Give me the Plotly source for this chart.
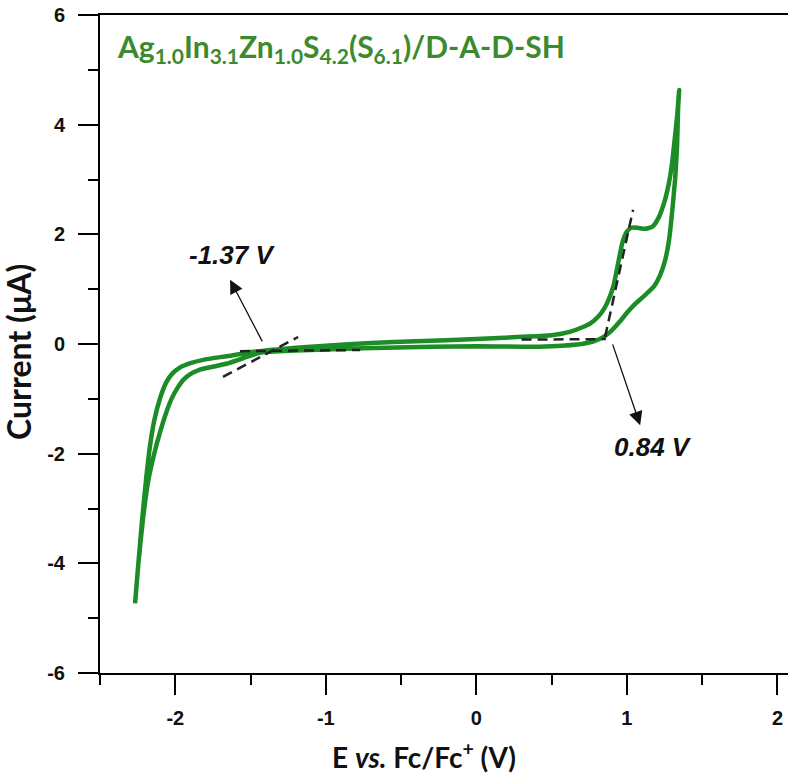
import plotly.graph_objects as go

# Forward (upper / outer) branch: from cathodic tip to anodic vertex
fwd_x = [-2.267, -2.245, -2.22, -2.195, -2.17, -2.14, -2.10, -2.06, -2.02, -1.97, -1.90,
         -1.80, -1.65, -1.52, -1.37, -1.2, -1.0, -0.7, -0.4, 0.0, 0.3, 0.5, 0.62, 0.70,
         0.76, 0.81, 0.85, 0.88, 0.91, 0.94, 0.97, 1.0, 1.03, 1.07, 1.12, 1.17, 1.21, 1.25,
         1.28, 1.30, 1.32, 1.335, 1.347]
fwd_y = [-4.73, -4.0, -3.2, -2.5, -1.9, -1.4, -0.98, -0.70, -0.54, -0.43, -0.35,
         -0.28, -0.22, -0.16, -0.11, -0.07, -0.03, 0.02, 0.05, 0.09, 0.13, 0.16, 0.22, 0.30,
         0.38, 0.50, 0.65, 0.82, 1.05, 1.45, 1.85, 2.05, 2.12, 2.12, 2.10, 2.14, 2.3, 2.6,
         2.95, 3.3, 3.8, 4.2, 4.63]
# Reverse (lower / inner) branch: from anodic vertex back to cathodic tip
rev_x = [1.347, 1.34, 1.333, 1.32, 1.30, 1.28, 1.254, 1.22, 1.18, 1.108, 1.05, 1.0, 0.95, 0.889,
         0.84, 0.78, 0.70, 0.5, 0.3, 0.0, -0.3, -0.6, -0.9, -1.2, -1.44, -1.55, -1.66, -1.76,
         -1.84, -1.90, -1.945, -1.985, -2.025, -2.06, -2.10, -2.14, -2.18, -2.215, -2.245, -2.267]
rev_y = [4.63, 4.3, 3.6, 3.0, 2.4, 1.9, 1.53, 1.25, 1.05, 0.86, 0.72, 0.57, 0.40, 0.22,
         0.12, 0.05, 0.0, -0.04, -0.05, -0.04, -0.05, -0.07, -0.09, -0.12, -0.16, -0.26, -0.36, -0.42,
         -0.47, -0.55, -0.65, -0.80, -1.0, -1.25, -1.6, -2.0, -2.5, -3.2, -4.0, -4.73]

# Tangent (onset) lines
tan_left_steep_x = [-1.683, -1.184]
tan_left_steep_y = [-0.60, 0.128]
tan_left_base_x = [-1.57, -0.772]
tan_left_base_y = [-0.13, -0.11]
tan_right_base_x = [0.30, 0.86]
tan_right_base_y = [0.08, 0.09]
tan_right_steep_x = [0.855, 1.041]
tan_right_steep_y = [0.13, 2.45]

onset_labels = ["-1.37 V", "0.84 V"]
label_x = [-1.623, 1.174]
label_y = [1.62, -1.88]
arrow_tail_x = [-1.417, 0.902]
arrow_tail_y = [0.02, 0.02]
arrow_head_x = [-1.636, 1.088]
arrow_head_y = [1.17, -1.48]

x_ticks = [-2, -1, 0, 1, 2]
x_ticktext = ["-2", "-1", "0", "1", "2"]
y_ticks = [-6, -4, -2, 0, 2, 4, 6]
y_ticktext = ["-6", "-4", "-2", "0", "2", "4", "6"]

W, H = 788, 773
L, T, PW, PH = 100, 15, 688, 658

green = "#1c8c26"
fig = go.Figure()
fig.add_trace(go.Scatter(x=fwd_x + rev_x[1:], y=fwd_y + rev_y[1:], mode="lines",
                         line=dict(color=green, width=4.5, shape="spline", smoothing=0.5),
                         showlegend=False, hoverinfo="skip"))
for tx, ty in [(tan_left_steep_x, tan_left_steep_y), (tan_left_base_x, tan_left_base_y),
               (tan_right_base_x, tan_right_base_y), (tan_right_steep_x, tan_right_steep_y)]:
    fig.add_trace(go.Scatter(x=tx, y=ty, mode="lines",
                             line=dict(color="#222222", width=2.5, dash="10px,6px"),
                             showlegend=False, hoverinfo="skip"))

for i in range(2):
    fig.add_annotation(x=arrow_head_x[i], y=arrow_head_y[i], ax=arrow_tail_x[i], ay=arrow_tail_y[i],
                       xref="x", yref="y", axref="x", ayref="y", text="", showarrow=True,
                       arrowhead=2, arrowsize=2.1, arrowwidth=1.3, arrowcolor="#111111")
    fig.add_annotation(x=label_x[i], y=label_y[i], xref="x", yref="y", text="<b><i>%s</i></b>" % onset_labels[i],
                       showarrow=False, font=dict(family="Liberation Sans", size=26, color="#111111"))

fig.add_annotation(x=15 / PW, y=1, xref="paper", yref="paper", xanchor="left", yanchor="middle",
                   yshift=-33,
                   text="<b>Ag<sub>1.0</sub>In<sub>3.1</sub>Zn<sub>1.0</sub>S<sub>4.2</sub>(S<sub>6.1</sub>)/D-A-D-SH</b>",
                   showarrow=False, font=dict(family="Lato", size=30, color="#3b8a2e"))

fig.add_annotation(x=(424 - L) / PW, y=0, xref="paper", yref="paper", xanchor="center", yanchor="middle",
                   yshift=-82,
                   text="<b>E <i>vs.</i> Fc/Fc<sup>+</sup> (V)</b>", showarrow=False,
                   font=dict(family="Lato", size=28, color="#111111"))
fig.add_annotation(x=(19 - L) / PW, y=0.488, xref="paper", yref="paper", xanchor="center", yanchor="middle",
                   text="<b>Current (μA)</b>", textangle=-90, showarrow=False,
                   font=dict(family="Lato", size=32, color="#111111"))

fig.update_layout(
    width=W, height=H, margin=dict(l=L, r=W - L - PW, t=T, b=H - T - PH, autoexpand=False),
    paper_bgcolor="white", plot_bgcolor="white",
    font=dict(family="Liberation Sans", color="#111111"),
)
fig.update_xaxes(range=[-2.5, 2.07], tickvals=x_ticks, ticktext=x_ticktext, ticks="outside", ticklen=20,
                 tickwidth=2, automargin=False,
                 tickcolor="black", showline=True, linecolor="black", linewidth=2, mirror=True,
                 showgrid=False, zeroline=False, ticklabelstandoff=6,
                 tickfont=dict(family="Liberation Sans", size=20, color="#111111", weight="bold"),
                 minor=dict(dtick=0.5, tick0=-2.5, ticks="outside", ticklen=10, tickwidth=2, tickcolor="black"))
fig.update_yaxes(range=[-6, 6], tickvals=y_ticks, ticktext=y_ticktext, ticks="outside", ticklen=20,
                 tickwidth=2, automargin=False,
                 tickcolor="black", showline=True, linecolor="black", linewidth=2, mirror=False,
                 showgrid=False, zeroline=False, ticklabelstandoff=9,
                 tickfont=dict(family="Liberation Sans", size=20, color="#111111", weight="bold"),
                 minor=dict(dtick=1, tick0=-5, ticks="outside", ticklen=10, tickwidth=2, tickcolor="black"))

fig.write_html("out.html", config={"displayModeBar": False},
               post_script="document.body.style.margin='0';document.body.style.overflow='hidden';")
